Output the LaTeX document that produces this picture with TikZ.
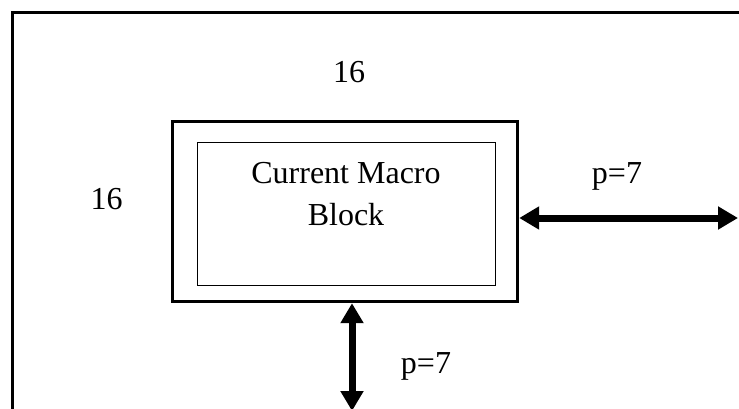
\documentclass[tikz,border=0pt]{standalone}
\usepackage{fontspec}
\setmainfont{Liberation Serif}
\usepackage{tikz}
\usetikzlibrary{arrows.meta}
\usetikzlibrary{positioning}
\tikzset{
    outerblk/.style = {rectangle, draw=black, line width=3pt, minimum width=345pt, minimum height=180pt, inner sep=0pt},
    innerblk/.style = {rectangle, draw=black, line width=1pt, minimum width=298pt, minimum height=142pt, inner sep=0pt},
    lbl/.style = {anchor=base, inner sep=0pt, font=\fontsize{32}{42}\selectfont},
}

\begin{document}
\begin{tikzpicture}[
	x=1pt, y=-1pt,
	dimarrow/.style = {line width=7pt, {Triangle[width=22pt,length=20pt]}-{Triangle[width=22pt,length=20pt]}}
]
\useasboundingbox (0,0) rectangle (739,409);
% search window frame
\draw[line width=2.2pt] (12.5,412) -- (12.5,12.5) -- (742,12.5);
%
\node[outerblk] at (345.2,211.7) (mb) {};
\node[innerblk] at (346,214) (cur) {};
\node[lbl, align=center] at (346,225) (txt) {Current Macro\\Block};
%
\node[lbl] at (349,82.3) (top) {16};
\node[lbl] at (106.7,209) (left) {16};
\node[lbl] at (617,183.3) (pr) {p=7};
\node[lbl] at (426,373.3) (pb) {p=7};
%
\coordinate (re) at (738,218);
\coordinate (be) at (352,411);
\draw[dimarrow] (mb.east |- re) -- (re);
\draw[dimarrow] (mb.south -| be) -- (be);
\end{tikzpicture}
\end{document}
